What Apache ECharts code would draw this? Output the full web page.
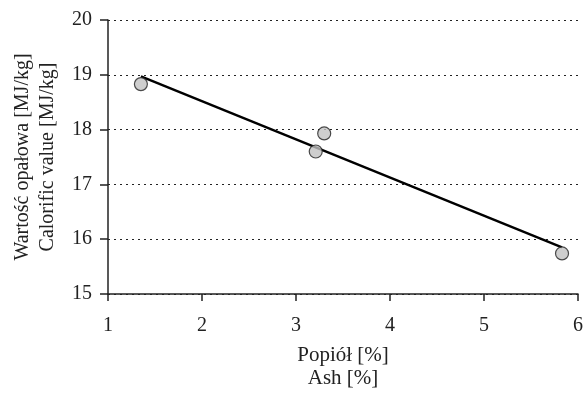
<!DOCTYPE html>
<html>
<head>
<meta charset="utf-8">
<script src="https://cdn.jsdelivr.net/npm/echarts@6/dist/echarts.min.js"></script>
<style>
  html, body { margin: 0; padding: 0; background: #fff; }
  #chart { width: 586px; height: 395px; }
</style>
</head>
<body>
<div id="chart"></div>
<script>
// measured points: ash [%] vs calorific value [MJ/kg]
const ash = [1.35, 3.21, 3.3, 5.83];
const calorific = [18.83, 17.6, 17.93, 15.74];
// linear trend line end points as drawn
const trendX = [1.35, 5.83];
const trendY = [18.97, 15.85];

const FONT = "'Liberation Serif', 'DejaVu Serif', serif";

const chart = echarts.init(document.getElementById("chart"));

chart.setOption({
  animation: false,
  grid: { left: 108, right: 3, top: 20, bottom: 95, containLabel: false },
  xAxis: {
    type: "value",
    min: 1,
    max: 6,
    interval: 1,
    name: "Popiół [%]\nAsh [%]",
    nameLocation: "middle",
    nameGap: 50,
    nameTextStyle: { fontFamily: FONT, fontSize: 21, color: "#222", lineHeight: 23, verticalAlign: "top" },
    axisLine: { lineStyle: { color: "#222", width: 1.5 } },
    axisTick: { show: true, length: 7, lineStyle: { color: "#222", width: 1.5 } },
    axisLabel: { fontFamily: FONT, fontSize: 20, color: "#222", margin: 22 },
    splitLine: { show: false }
  },
  yAxis: {
    type: "value",
    min: 15,
    max: 20,
    interval: 1,
    name: "Wartość opałowa [MJ/kg]\nCalorific value [MJ/kg]",
    nameLocation: "middle",
    nameRotate: 90,
    nameGap: 48,
    nameTextStyle: { fontFamily: FONT, fontSize: 20, color: "#222", lineHeight: 25 },
    axisLine: { show: true, lineStyle: { color: "#222", width: 1.5 } },
    axisTick: { show: true, length: 8, lineStyle: { color: "#222", width: 1.5 } },
    axisLabel: { fontFamily: FONT, fontSize: 20, color: "#222", margin: 16 },
    splitLine: { show: true, lineStyle: { color: "#222", type: [2, 4], width: 1.2 } }
  },
  series: [
    {
      type: "line",
      data: trendX.map((x, i) => [x, trendY[i]]),
      symbol: "none",
      lineStyle: { color: "#000", width: 2.4 },
      z: 2
    },
    {
      type: "scatter",
      data: ash.map((x, i) => [x, calorific[i]]),
      symbol: "circle",
      symbolSize: 13,
      itemStyle: { color: "#c2c2c2", borderColor: "#222", borderWidth: 1.2 },
      z: 3
    }
  ]
});
</script>
</body>
</html>
